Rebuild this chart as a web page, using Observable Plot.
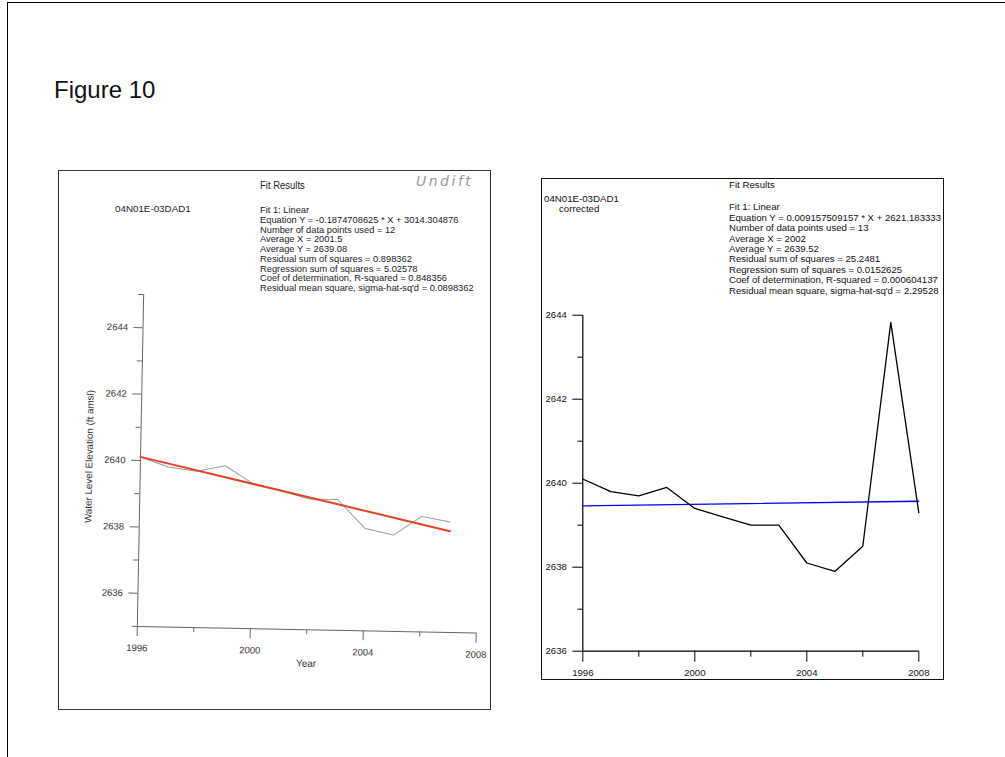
<!DOCTYPE html>
<html><head><meta charset="utf-8">
<script src="https://cdn.jsdelivr.net/npm/d3@7"></script>
<script src="https://cdn.jsdelivr.net/npm/@observablehq/plot@0.6"></script>
<style>
body{margin:0;background:#fff;font-family:"Liberation Sans",Arial,Helvetica,sans-serif;}
#page{position:relative;width:1005px;height:757px;overflow:hidden;background:#fff;}
.abs{position:absolute;white-space:nowrap;line-height:1;transform-origin:0 50%;}
.box{position:absolute;box-sizing:border-box;}
</style></head><body><div id="page"></div>
<script>
// ---------- data ----------
const years1 = [1996,1997,1998,1999,2000,2001,2002,2003,2004,2005,2006,2007];
const level1 = [2640.1,2639.82,2639.71,2639.89,2639.37,2639.17,2638.94,2638.94,2638.08,2637.9,2638.48,2638.33];
const fit1X = [1996,2007];
const fit1Y = [2640.11,2638.05];

const years2 = [1996,1997,1998,1999,2000,2001,2002,2003,2004,2005,2006,2007,2008];
const level2 = [2640.1,2639.8,2639.7,2639.9,2639.4,2639.2,2639.0,2639.0,2638.1,2637.9,2638.5,2643.83,2639.3];
const fit2X = [1996,2008];
const fit2Y = [2639.46,2639.57];

const yTicks = [2636,2638,2640,2642,2644];
const yMinor1 = [2635,2637,2639,2641,2643,2645];
const yMinor2 = [2637,2639,2641,2643];
const xTicks = [1996,2000,2004,2008];
const xMinor = [1998,2002,2006];
const yExtent1 = [2635,2645];
const yExtent2 = [2636,2644];

const wellName = "04N01E-03DAD1";
const fit1Lines = [
  "Fit 1: Linear",
  "Equation Y = -0.1874708625 * X + 3014.304876",
  "Number of data points used = 12",
  "Average X = 2001.5",
  "Average Y = 2639.08",
  "Residual sum of squares = 0.898362",
  "Regression sum of squares = 5.02578",
  "Coef of determination, R-squared = 0.848356",
  "Residual mean square, sigma-hat-sq'd = 0.0898362"
];
const fit2Lines = [
  "Fit 1: Linear",
  "Equation Y = 0.009157509157 * X + 2621.183333",
  "Number of data points used = 13",
  "Average X = 2002",
  "Average Y = 2639.52",
  "Residual sum of squares = 25.2481",
  "Regression sum of squares = 0.0152625",
  "Coef of determination, R-squared = 0.000604137",
  "Residual mean square, sigma-hat-sq'd = 2.29528"
];

// ---------- layout ----------
const page = document.getElementById("page");
function el(tag, css, text) {
  const e = document.createElement(tag);
  Object.assign(e.style, css);
  if (text != null) e.textContent = text;
  page.appendChild(e);
  return e;
}
function txt(x, yc, s, size, color, extra) {
  const e = el("div", Object.assign({left: x + "px", top: (yc - size * 0.55) + "px", fontSize: size + "px", color: color || "#111"}, extra || {}), s);
  e.className = "abs";
  return e;
}

// page frame
const fr = el("div", {left: "7px", top: "2px", width: "1100px", height: "900px", borderLeft: "1.5px solid #000", borderTop: "1.5px solid #000"});
fr.className = "box";
// title
txt(54, 91, "Figure 10", 24, "#111");

// ---------- left panel (scanned graph) ----------
const lb = el("div", {left: "58px", top: "170px", width: "433px", height: "540px", border: "1.5px solid #333"});
lb.className = "box";

const d1 = years1.map((x, i) => ({x, y: level1[i]}));
const f1 = fit1X.map((x, i) => ({x, y: fit1Y[i]}));
const left = Plot.plot({
  width: 433, height: 539,
  marginLeft: 82, marginRight: 12, marginTop: 124, marginBottom: 83,
  x: {domain: [xTicks[0], xTicks[xTicks.length - 1]], label: null},
  y: {domain: yExtent1, label: null},
  style: {fontFamily: "'Liberation Sans', Arial, sans-serif", fontSize: "9.5px", color: "#333", background: "transparent", overflow: "visible"},
  marks: [
    Plot.ruleX([xTicks[0]], {y1: yExtent1[0], y2: yExtent1[1], stroke: "#666", strokeWidth: 1}),
    Plot.ruleY([yExtent1[0]], {x1: xTicks[0], x2: xTicks[xTicks.length - 1], stroke: "#666", strokeWidth: 1}),
    Plot.axisY({ticks: yTicks, tickSize: 9, tickPadding: 6, tickFormat: d => String(d), stroke: "#666", label: null}),
    Plot.axisY({ticks: yMinor1, tickSize: 5, tickFormat: () => "", stroke: "#666", label: null}),
    Plot.axisX({ticks: xTicks, tickSize: 10, tickPadding: 8, tickFormat: d => String(d), stroke: "#666", label: null}),
    Plot.axisX({ticks: xMinor, tickSize: 5, tickFormat: () => "", stroke: "#666", label: null}),
    Plot.line(d1, {x: "x", y: "y", stroke: "#9c9c9c", strokeWidth: 1}),
    Plot.line(f1, {x: "x", y: "y", stroke: "#e0452c", strokeWidth: 2}),
    Plot.text(["Water Level Elevation (ft amsl)"], {frameAnchor: "left", textAnchor: "middle", rotate: -90, lineAnchor: "top", dx: -55, dy: -3, fontSize: 9.8, fill: "#333"}),
    Plot.text(["Year"], {frameAnchor: "bottom", dy: 37, fontSize: 10, fill: "#333"})
  ]
});
Object.assign(left.style, {position: "absolute", left: "58px", top: "170px", transformOrigin: "82px 290px", transform: "rotate(1.1deg)"});
page.appendChild(left);

const sc1 = {transform: "scaleX(0.95)"};
txt(260, 186.5, "Fit Results", 10, "#222", sc1);
fit1Lines.forEach((s, i) => txt(260, 210.5 + i * 9.75, s, 9.8, "#222", sc1));
txt(115, 209, wellName, 9.8, "#222");
txt(416, 182, "Undift", 14, "#999", {fontStyle: "italic", fontFamily: "'DejaVu Sans', sans-serif", fontWeight: "200", letterSpacing: "2.5px"});

// ---------- right panel ----------
const rb = el("div", {left: "541px", top: "178px", width: "403px", height: "502px", border: "1.5px solid #111"});
rb.className = "box";

const d2 = years2.map((x, i) => ({x, y: level2[i]}));
const f2 = fit2X.map((x, i) => ({x, y: fit2Y[i]}));
const right = Plot.plot({
  width: 402, height: 501,
  marginLeft: 41.3, marginRight: 24.7, marginTop: 136.7, marginBottom: 28.3,
  x: {domain: [xTicks[0], xTicks[xTicks.length - 1]], label: null},
  y: {domain: yExtent2, label: null},
  style: {fontFamily: "'Liberation Sans', Arial, sans-serif", fontSize: "9.6px", color: "#111", background: "transparent", overflow: "visible"},
  marks: [
    Plot.ruleX([xTicks[0]], {y1: yExtent2[0], y2: yExtent2[1], stroke: "#000", strokeWidth: 1.2}),
    Plot.ruleY([yExtent2[0]], {x1: xTicks[0], x2: xTicks[xTicks.length - 1], stroke: "#000", strokeWidth: 1.2}),
    Plot.axisY({ticks: yTicks, tickSize: 10, tickPadding: 6, tickFormat: d => String(d), stroke: "#000", label: null}),
    Plot.axisY({ticks: yMinor2, tickSize: 5, tickFormat: () => "", stroke: "#000", label: null}),
    Plot.axisX({ticks: xTicks, tickSize: 11, tickPadding: 7, tickFormat: d => String(d), stroke: "#000", label: null}),
    Plot.axisX({ticks: xMinor, tickSize: 6, tickFormat: () => "", stroke: "#000", label: null}),
    Plot.line(f2, {x: "x", y: "y", stroke: "#0000ff", strokeWidth: 1.3}),
    Plot.line(d2, {x: "x", y: "y", stroke: "#000", strokeWidth: 1.3})
  ]
});
Object.assign(right.style, {position: "absolute", left: "541px", top: "178px"});
page.appendChild(right);

txt(729, 185, "Fit Results", 9.7, "#111");
fit2Lines.forEach((s, i) => txt(729, 207.7 + i * 10.4, s, 9.6, "#111"));
txt(544, 199, wellName, 9.7, "#111");
txt(559, 209.5, "corrected", 9.7, "#111");
</script></body></html>
